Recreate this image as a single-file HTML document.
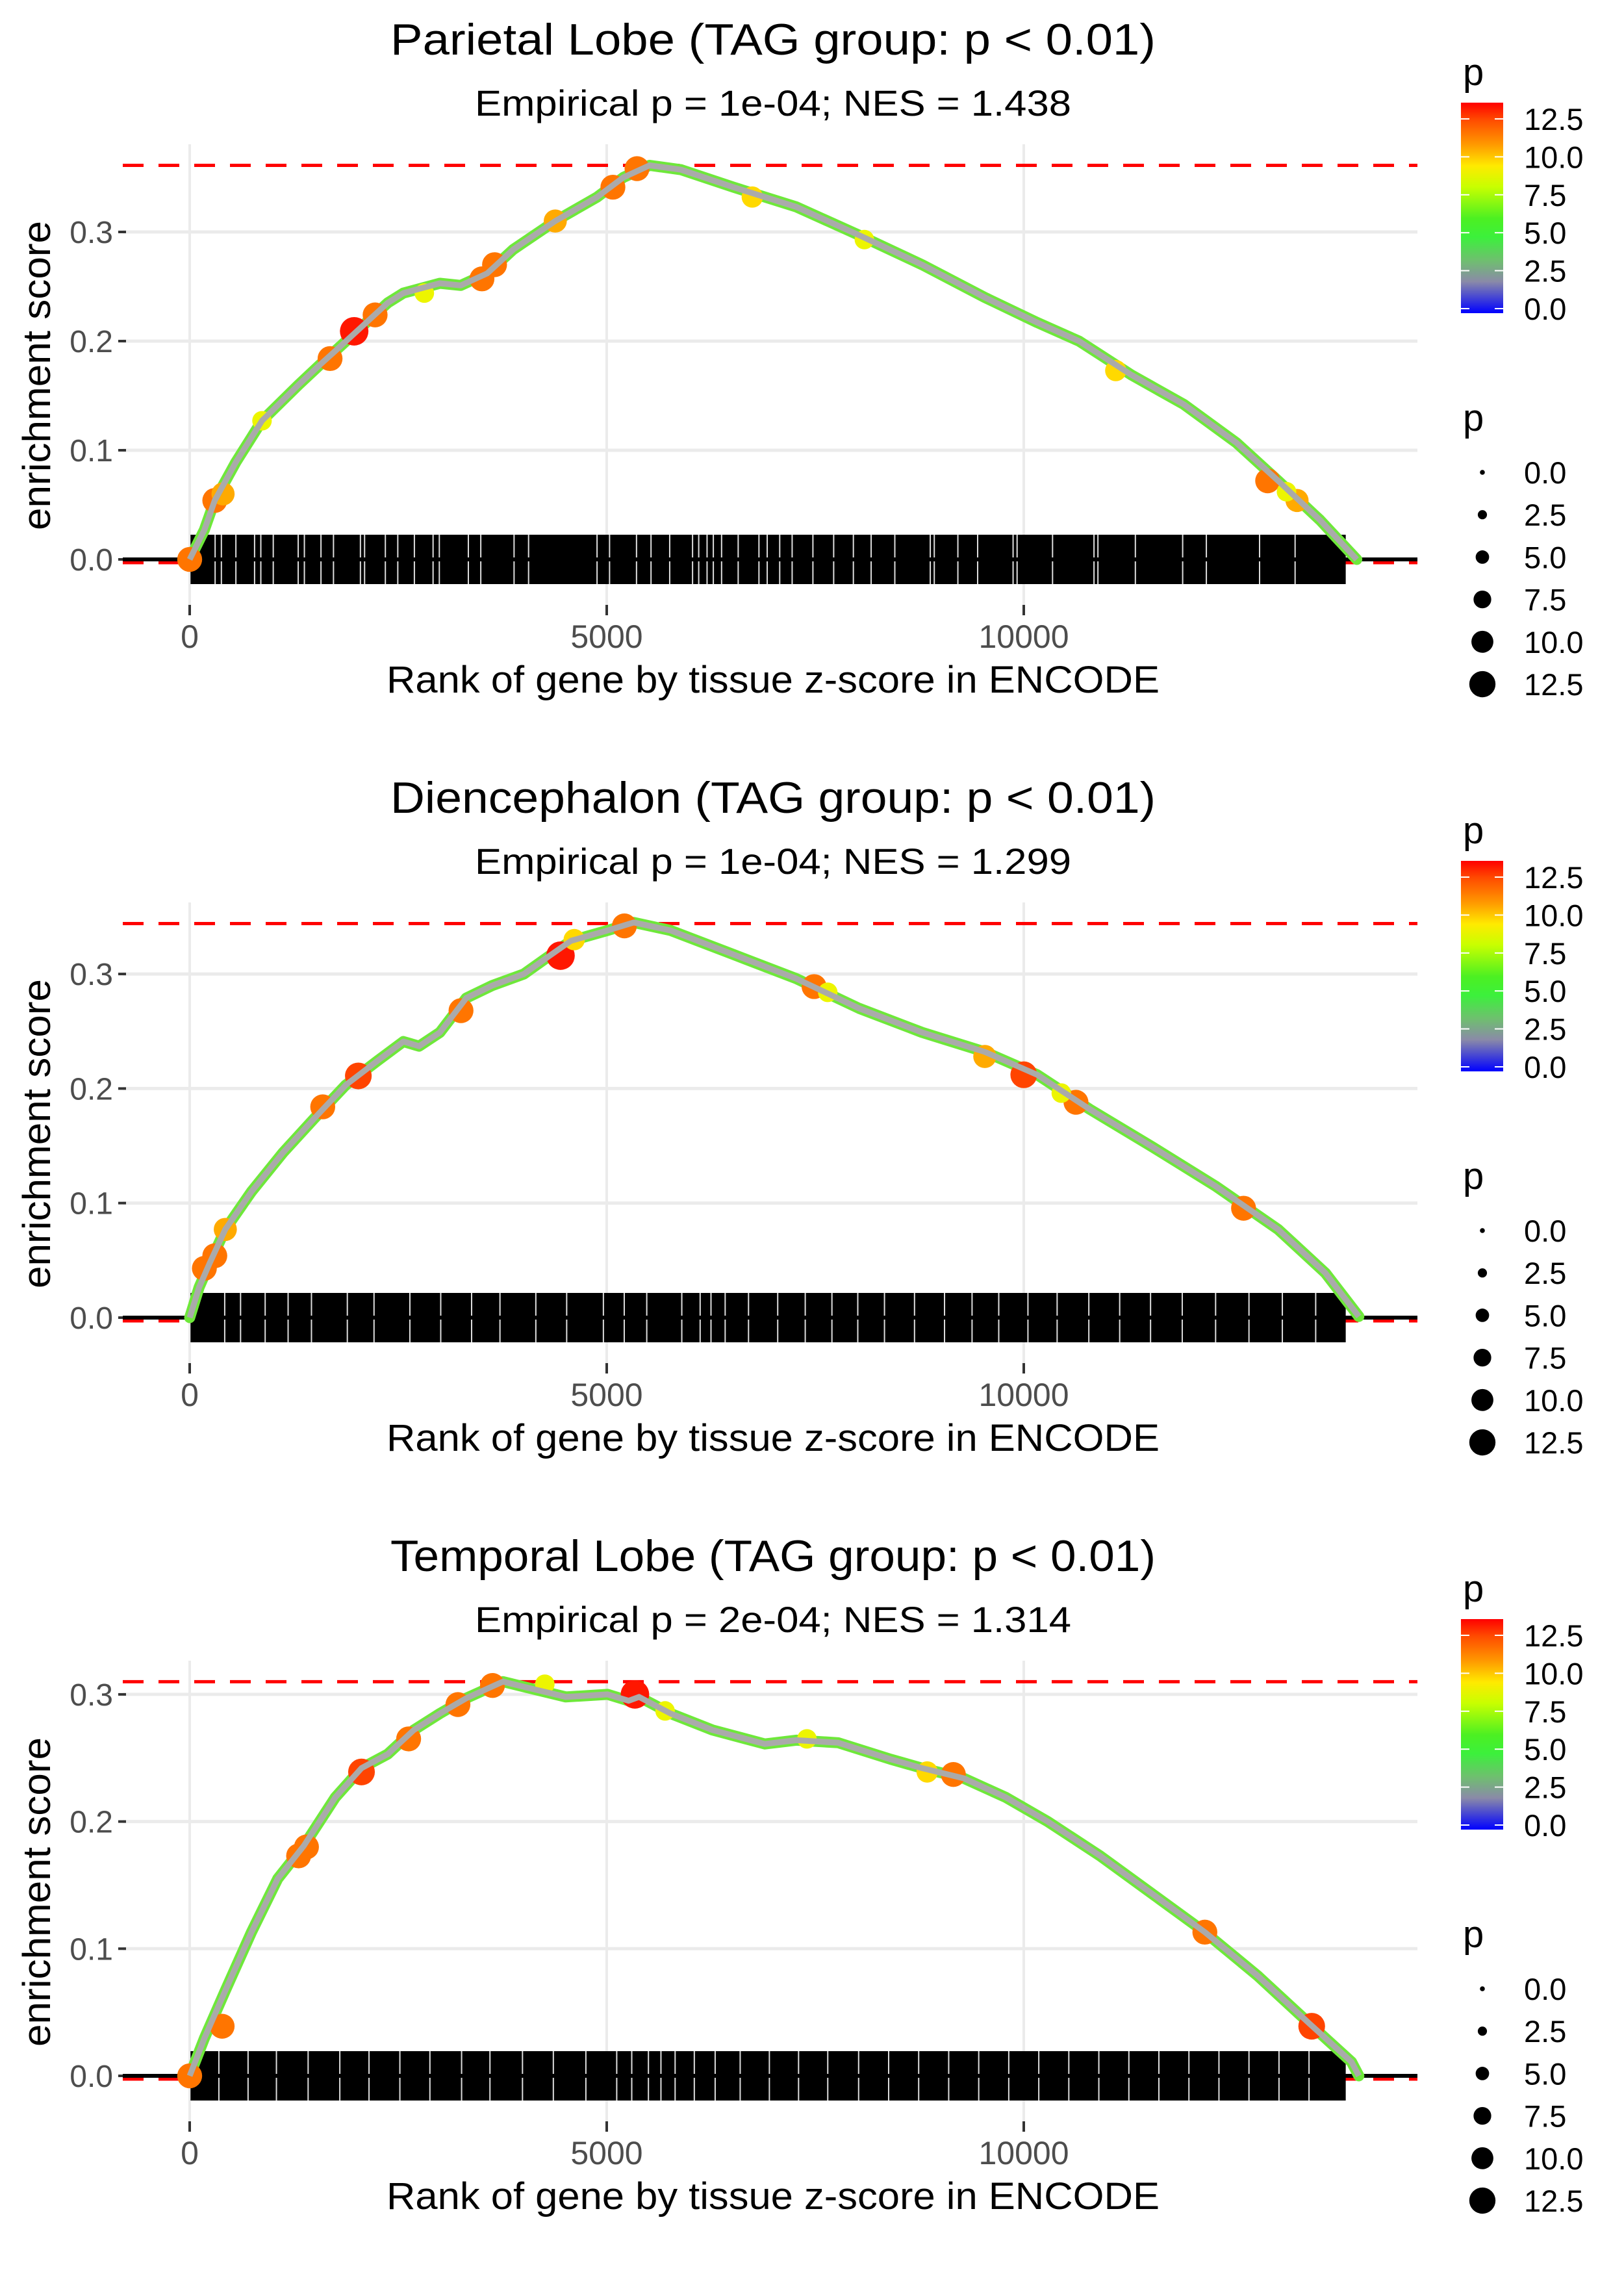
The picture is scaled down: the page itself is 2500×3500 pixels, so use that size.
<!DOCTYPE html>
<html><head><meta charset="utf-8"><style>
html,body{margin:0;padding:0;background:#fff;}
svg{display:block;font-family:"Liberation Sans",sans-serif;}
</style></head><body>
<svg id="chart" width="2500" height="3500" viewBox="0 0 2500 3500" xmlns="http://www.w3.org/2000/svg">
<defs>
<linearGradient id="pgrad" x1="0" y1="0" x2="0" y2="1">
<stop offset="0" stop-color="#ff0000"/><stop offset="0.08" stop-color="#ff4a00"/><stop offset="0.2" stop-color="#ff9a00"/><stop offset="0.3" stop-color="#ffea00"/><stop offset="0.4" stop-color="#c8ff00"/><stop offset="0.55" stop-color="#4cf022"/><stop offset="0.64" stop-color="#3cf03c"/><stop offset="0.75" stop-color="#6fbf6f"/><stop offset="0.85" stop-color="#8a8aa8"/><stop offset="1" stop-color="#0000ff"/>
</linearGradient>
</defs>
</svg>
<script>
// ---- data ----
const panelTitles = ["Parietal Lobe (TAG group: p < 0.01)", "Diencephalon (TAG group: p < 0.01)", "Temporal Lobe (TAG group: p < 0.01)"];
const panelSubtitles = ["Empirical p = 1e-04; NES = 1.438", "Empirical p = 1e-04; NES = 1.299", "Empirical p = 2e-04; NES = 1.314"];
const maxES = [0.361, 0.344, 0.310];
const yTicks = [0.0, 0.1, 0.2, 0.3];
const yTickLabels = ["0.0", "0.1", "0.2", "0.3"];
const xTicks = [0, 5000, 10000];
const xTickLabels = ["0", "5000", "10000"];
const legendTicks = [0, 2.5, 5, 7.5, 10, 12.5];
const legendTickLabels = ["0.0", "2.5", "5.0", "7.5", "10.0", "12.5"];

const p1Ranks = [0,176,301,553,867,1306,1557,1746,2060,2374,2562,3000,3250,3567,3880,4383,4886,5200,5514,5890,6519,7272,8026,8780,9533,10161,10663,11291,11919,12547,13050,13552,13992];
const p1Scores = [0,0.027,0.054,0.089,0.127,0.16,0.178,0.191,0.213,0.235,0.244,0.253,0.251,0.262,0.284,0.31,0.332,0.35,0.361,0.357,0.341,0.323,0.297,0.27,0.24,0.217,0.2,0.169,0.142,0.107,0.072,0.036,0.0];
const p1PtRanks = [0,301,400,867,1683,1972,2223,2813,3504,3655,4383,5074,5363,6745,8089,11103,12924,13276,13150];
const p1PtScores = [0,0.054,0.06,0.127,0.184,0.209,0.224,0.244,0.257,0.27,0.31,0.341,0.358,0.332,0.293,0.173,0.072,0.054,0.062];
const p1PtP = [11,11,10,8,11,13,11,8,11,11,10,11,11,9,8,9,11,10,8];

const p2Ranks = [0,113,239,427,741,1118,1495,1871,2248,2562,2751,3000,3316,3630,4007,4258,4572,5011,5325,5765,6519,7272,8026,8780,9533,10161,10789,11543,12296,13050,13615,14017];
const p2Scores = [0,0.0265,0.0475,0.077,0.11,0.144,0.174,0.203,0.224,0.241,0.237,0.249,0.279,0.29,0.3,0.313,0.329,0.338,0.345,0.338,0.317,0.296,0.27,0.249,0.232,0.212,0.182,0.149,0.115,0.077,0.039,0.001];
const p2PtRanks = [176,301,427,1595,2022,3253,4446,4610,5212,7486,7650,9533,10000,10626,12635,10450];
const p2PtScores = [0.043,0.054,0.077,0.184,0.211,0.268,0.316,0.33,0.342,0.289,0.284,0.228,0.212,0.188,0.0955,0.196];
const p2PtP = [11,11,10,11,12,11,13,9,11,11,8,10,12,11,11,8];

const p3Ranks = [0,176,427,741,1055,1369,1746,2060,2374,2688,3000,3316,3755,4132,4509,5011,5263,5388,5765,6267,6896,7272,7775,8403,8780,9282,9784,10287,10914,11543,12171,12799,13427,13929,14017];
const p3Scores = [0,0.0295,0.067,0.113,0.155,0.181,0.219,0.242,0.253,0.272,0.285,0.297,0.31,0.304,0.298,0.3,0.295,0.298,0.285,0.272,0.261,0.264,0.262,0.249,0.242,0.234,0.219,0.2,0.173,0.143,0.113,0.079,0.041,0.011,0];
const p3PtRanks = [0,389,1306,1400,2060,2625,3216,3630,4258,5338,7400,8842,9156,12171,13452,5700];
const p3PtScores = [0,0.039,0.173,0.18,0.239,0.265,0.292,0.307,0.308,0.300,0.265,0.239,0.237,0.113,0.039,0.287];
const p3PtP = [11,11,11,11,12,11,11,11,8,13,8,9,11,11,12,8];

const rugGaps1 = [305,380,554,778,853,1002,1301,1375,1574,1724,2047,2097,2346,2495,2694,2918,2993,3341,3490,3889,4063,4884,5034,5357,5531,5755,6029,6103,6203,6278,6377,6576,6825,6924,7074,7223,7472,7721,7957,8170,8454,8879,8927,9210,9447,9872,9920,10345,10842,10889,11338,11905,12189,12827,13253];
const rugGaps2 = [420,610,905,1180,1460,1890,2210,2640,3010,3380,3720,4150,4520,4960,5210,5480,5900,6120,6250,6420,6700,7050,7380,7700,8010,8330,8690,9050,9380,9700,10050,10400,10780,11150,11520,11900,12300,12700,13100,13500];
const rugGaps3 = [350,700,1040,1420,1800,2150,2520,2880,3260,3600,3990,4360,4750,5120,5300,5500,5650,5820,6050,6300,6600,6950,7300,7650,8020,8380,8740,9100,9460,9820,10180,10540,10900,11260,11620,11980,12340,12700,13060,13420];

const curveRanks = [p1Ranks, p2Ranks, p3Ranks];
const curveScores = [p1Scores, p2Scores, p3Scores];
const ptRanks = [p1PtRanks, p2PtRanks, p3PtRanks];
const ptScores = [p1PtScores, p2PtScores, p3PtScores];
const ptP = [p1PtP, p2PtP, p3PtP];
const rugGaps = [rugGaps1, rugGaps2, rugGaps3];
const rugStart = 10, rugEnd = 13860;

// ---- drawing ----
const NS = "http://www.w3.org/2000/svg";
const svg = document.getElementById("chart");
function mk(tag, attrs, parent) {
  const e = document.createElementNS(NS, tag);
  for (const k in attrs) e.setAttribute(k, attrs[k]);
  (parent || svg).appendChild(e);
  return e;
}
const colorStops = [[0,[0,0,255]],[2.5,[138,138,168]],[3.6,[108,200,108]],[5,[60,240,40]],[7,[200,255,0]],[8.5,[255,240,0]],[10,[255,170,0]],[11.5,[255,90,0]],[13.5,[255,0,0]]];
function colorFor(p) {
  for (let i = 1; i < colorStops.length; i++) {
    if (p <= colorStops[i][0]) {
      const a = colorStops[i-1], b = colorStops[i];
      const t = (p - a[0]) / (b[0] - a[0]);
      const c = a[1].map((v, j) => Math.round(v + (b[1][j] - v) * t));
      return "rgb(" + c.join(",") + ")";
    }
  }
  return "rgb(255,0,0)";
}
function radiusFor(p) { return 4 + 1.38 * p; }
const xScale = r => 292 + r * 0.1284;
const yUnit = [1680, 1763, 1957];
const PANEL_H = 1167;
const PL = 189, PR = 2182;
const stretch = {"lengthAdjust": "spacingAndGlyphs"};

for (let k = 0; k < 3; k++) {
  const off = k * PANEL_H;
  const y = v => off + 861 - v * yUnit[k];
  const g = mk("g", {});
  
  

  const t = mk("text", {x: 1190, y: off + 84, "text-anchor": "middle", "font-size": 68, fill: "#000", textLength: 1178, lengthAdjust: "spacingAndGlyphs"}, g);
  t.textContent = panelTitles[k];
  
  
  const st = mk("text", {x: 1190, y: off + 178, "text-anchor": "middle", "font-size": 56, fill: "#000", textLength: 918, lengthAdjust: "spacingAndGlyphs"}, g);
  st.textContent = panelSubtitles[k];
  
  

  // gridlines
  xTicks.forEach(v => {
    const l = mk("line", {x1: xScale(v), x2: xScale(v), y1: off + 222, y2: off + 935, stroke: "#ebebeb", "stroke-width": 4}, g);
    
    
  });
  yTicks.forEach((v, i) => {
    const l = mk("line", {x1: PL, x2: PR, y1: y(v), y2: y(v), stroke: "#ebebeb", "stroke-width": 5}, g);
    
    
    const tk = mk("line", {x1: 182, x2: 194, y1: y(v), y2: y(v), stroke: "#333", "stroke-width": 4}, g);
    
    
    const tl = mk("text", {x: 174, y: y(v) + 17, "text-anchor": "end", "font-size": 48, fill: "#4d4d4d"}, g);
    tl.textContent = yTickLabels[i];
    
    
  });
  xTicks.forEach((v, i) => {
    const tk = mk("line", {x1: xScale(v), x2: xScale(v), y1: off + 931, y2: off + 947, stroke: "#333", "stroke-width": 4}, g);
    
    
    const tl = mk("text", {x: xScale(v), y: off + 997, "text-anchor": "middle", "font-size": 50, fill: "#4d4d4d"}, g);
    tl.textContent = xTickLabels[i];
    
    
  });

  const xt = mk("text", {x: 1190, y: off + 1066, "text-anchor": "middle", "font-size": 58, fill: "#000", textLength: 1190, lengthAdjust: "spacingAndGlyphs"}, g);
  xt.textContent = "Rank of gene by tissue z-score in ENCODE";
  
  
  const yt = mk("text", {x: 0, y: 0, "text-anchor": "middle", "font-size": 60, fill: "#000", textLength: 476, lengthAdjust: "spacingAndGlyphs", transform: "translate(77," + (off + 578) + ") rotate(-90)"}, g);
  yt.textContent = "enrichment score";
  
  

  // dashed lines
  const dmax = mk("line", {x1: PL, x2: PR, y1: y(maxES[k]), y2: y(maxES[k]), stroke: "#ff0000", "stroke-width": 5, "stroke-dasharray": "32 23"}, g);
  
  
  const dmin = mk("line", {x1: PL, x2: PR, y1: y(0) + 5, y2: y(0) + 5, stroke: "#ff0000", "stroke-width": 5, "stroke-dasharray": "32 23"}, g);
  
  

  // rug
  const rug = mk("rect", {x: xScale(rugStart), y: off + 823, width: xScale(rugEnd) - xScale(rugStart), height: 76, fill: "#000"}, g);
  
  
  rugGaps[k].forEach(r => {
    const gp = mk("rect", {x: xScale(r) - 1, y: off + 823, width: 2, height: 76, fill: "#ddd"}, g);
    
    
  });
  const zl = mk("line", {x1: PL, x2: PR, y1: y(0), y2: y(0), stroke: "#000", "stroke-width": 6}, g);
  
  

  // curve
  const pts = curveRanks[k].map((r, i) => xScale(r).toFixed(1) + "," + y(curveScores[k][i]).toFixed(1)).join(" ");
  const halo = mk("polyline", {points: pts, fill: "none", stroke: "#6ee83a", "stroke-width": 17, "stroke-linejoin": "round", "stroke-linecap": "round"}, g);
  
  
  ptRanks[k].forEach((r, i) => {
    const p = ptP[k][i];
    const c = mk("circle", {cx: xScale(r), cy: y(ptScores[k][i]), r: radiusFor(p), fill: colorFor(p)}, g);
    
    
  });
  const line = mk("polyline", {points: pts, fill: "none", stroke: "#aaaaaa", "stroke-width": 9, "stroke-linejoin": "round"}, g);
  
  

  // colour legend
  const ct = mk("text", {x: 2252, y: off + 131, "font-size": 58, fill: "#000"}, g);
  ct.textContent = "p";
  
  
  const cb = mk("rect", {x: 2249, y: off + 158, width: 65, height: 324, fill: "url(#pgrad)"}, g);
  
  
  const cy = v => off + 475 - v * 23.36;
  legendTicks.forEach((v, i) => {
    mk("line", {x1: 2249, x2: 2262, y1: cy(v), y2: cy(v), stroke: "#fff", "stroke-width": 2}, g);
    mk("line", {x1: 2301, x2: 2314, y1: cy(v), y2: cy(v), stroke: "#fff", "stroke-width": 2}, g);
    const lt = mk("text", {x: 2346, y: cy(v) + 17, "font-size": 47, fill: "#000"}, g);
    lt.textContent = legendTickLabels[i];
    
    
  });

  // size legend
  const stt = mk("text", {x: 2252, y: off + 663, "font-size": 58, fill: "#000"}, g);
  stt.textContent = "p";
  
  
  legendTicks.forEach((v, i) => {
    const yy = off + 727 + i * 65.2;
    const c = mk("circle", {cx: 2282, cy: yy, r: radiusFor(v) * 0.95, fill: "#000"}, g);
    
    
    const lt = mk("text", {x: 2346, y: yy + 17, "font-size": 47, fill: "#000"}, g);
    lt.textContent = legendTickLabels[i];
    
    
  });
}
</script>
</body></html>
